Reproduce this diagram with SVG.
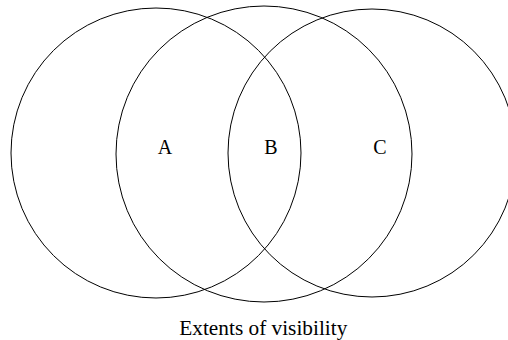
<svg xmlns="http://www.w3.org/2000/svg" width="508" height="340" viewBox="0 0 508 340">
<style>
.c{fill:none;stroke:#000;stroke-width:1}
.t{font-family:"Liberation Serif","Times New Roman",serif;font-size:20px;fill:#000;text-anchor:middle}
</style>
<rect width="508" height="340" fill="#fff"/>
<g id="circle-A"><circle class="c" cx="156" cy="153" r="145"/><text class="t" x="165" y="154">A</text></g>
<g id="circle-B"><circle class="c" cx="264" cy="154" r="148"/><text class="t" x="271" y="154">B</text></g>
<g id="circle-C"><circle class="c" cx="372" cy="153" r="144"/><text class="t" x="380" y="154">C</text></g>
<g id="connectors"></g>
<text class="t" x="263.3" y="335" textLength="168" lengthAdjust="spacingAndGlyphs">Extents of visibility</text>
</svg>
